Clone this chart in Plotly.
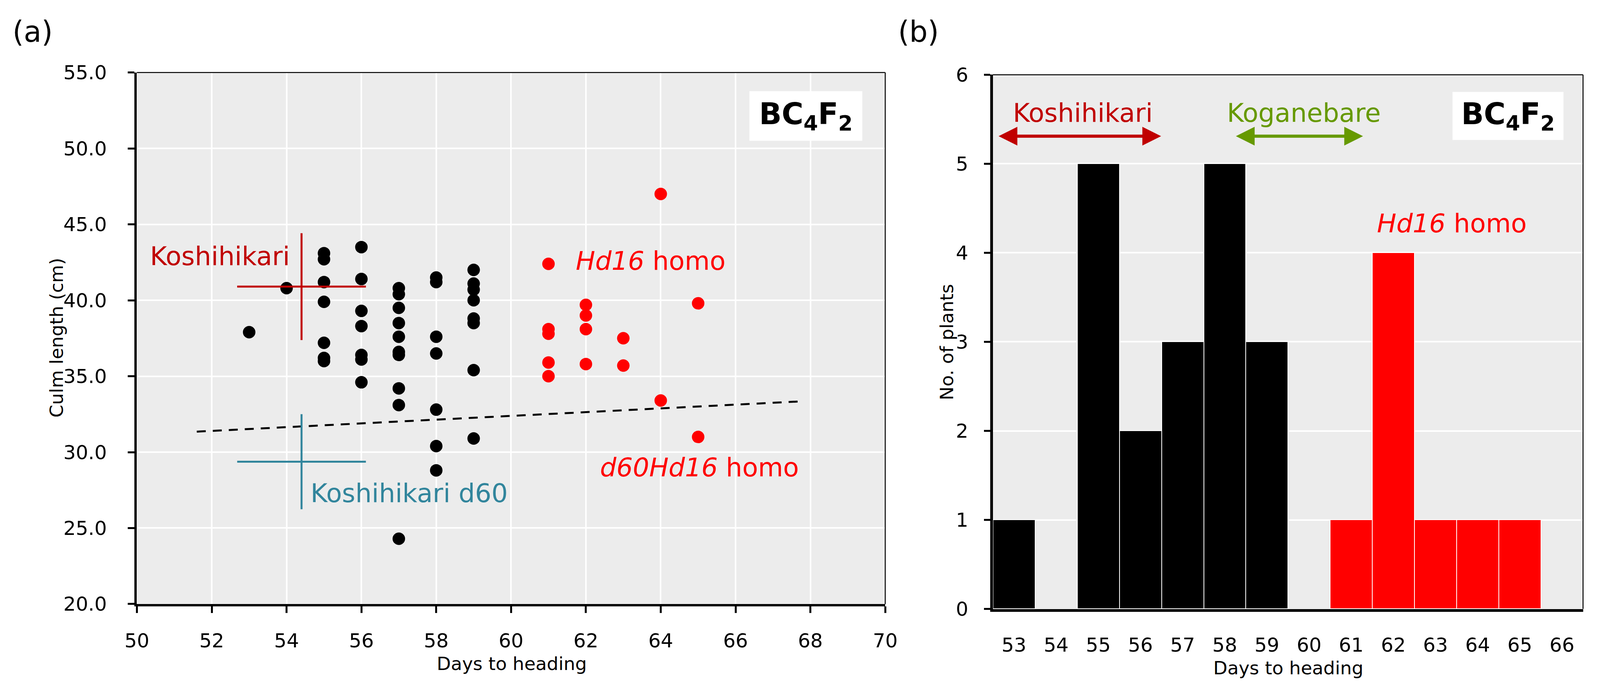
import plotly.graph_objects as go

# ---------------- data ----------------
# Panel (a): culm length (cm) by days to heading
black_days = [53, 54, 55, 55, 55, 55, 55, 55, 55,
              56, 56, 56, 56, 56, 56, 56,
              57, 57, 57, 57, 57, 57, 57, 57, 57, 57,
              58, 58, 58, 58, 58, 58, 58,
              59, 59, 59, 59, 59, 59, 59, 59]
black_culm = [37.9, 40.8, 43.1, 42.7, 41.2, 39.9, 37.2, 36.2, 36.0,
              43.5, 41.4, 39.3, 38.3, 36.4, 36.1, 34.6,
              40.8, 40.4, 39.5, 38.5, 37.6, 36.6, 36.4, 34.2, 33.1, 24.3,
              41.5, 41.2, 37.6, 36.5, 32.8, 30.4, 28.8,
              42.0, 41.1, 40.7, 40.0, 38.8, 38.5, 35.4, 30.9]
red_days = [61, 61, 61, 61, 61, 62, 62, 62, 62, 63, 63, 64, 64, 65, 65]
red_culm = [42.4, 38.1, 37.8, 35.9, 35.0, 39.7, 39.0, 38.1, 35.8,
            37.5, 35.7, 47.0, 33.4, 39.8, 31.0]

trend_x = [51.6, 67.8]
trend_y = [31.35, 33.35]

kosh_mean = [54.4, 40.9]
kosh_err = [1.72, 3.52]
d60_mean = [54.4, 29.37]
d60_err = [1.72, 3.13]

x_ticks_a = [50, 52, 54, 56, 58, 60, 62, 64, 66, 68, 70]
y_ticks_a = [20, 25, 30, 35, 40, 45, 50, 55]

# Panel (b): number of plants per day to heading
hist_days = [53, 54, 55, 56, 57, 58, 59, 60, 61, 62, 63, 64, 65, 66]
hist_black = [1, 0, 5, 2, 3, 5, 3, 0, 0, 0, 0, 0, 0, 0]
hist_red = [0, 0, 0, 0, 0, 0, 0, 0, 1, 4, 1, 1, 1, 0]
y_ticks_b = [0, 1, 2, 3, 4, 5, 6]

# ---------------- style ----------------
W, H = 4241, 1780
FONT = "DejaVu Sans"
BG = "#ECECEC"
KRED = "#C00000"
RED = "#FF0000"
TEAL = "#31859C"
GREEN = "#669900"
ANN = 66


def px(x):
    return x / W


def py(y):
    return 1 - y / H


fig = go.Figure()

# ---- panel (a) ----
fig.add_trace(go.Scatter(x=trend_x, y=trend_y, mode="lines",
                         line=dict(color="black", width=5, dash="23px,18px"),
                         xaxis="x", yaxis="y", hoverinfo="skip"))
fig.add_trace(go.Scatter(x=black_days, y=black_culm, mode="markers",
                         marker=dict(color="black", size=32),
                         xaxis="x", yaxis="y"))
fig.add_trace(go.Scatter(x=red_days, y=red_culm, mode="markers",
                         marker=dict(color=RED, size=32),
                         xaxis="x", yaxis="y"))
fig.add_trace(go.Scatter(x=[kosh_mean[0]], y=[kosh_mean[1]], mode="markers",
                         marker=dict(color=KRED, size=1),
                         error_x=dict(type="data", array=[kosh_err[0]], width=0,
                                      thickness=5, color=KRED),
                         error_y=dict(type="data", array=[kosh_err[1]], width=0,
                                      thickness=5, color=KRED),
                         xaxis="x", yaxis="y"))
fig.add_trace(go.Scatter(x=[d60_mean[0]], y=[d60_mean[1]], mode="markers",
                         marker=dict(color=TEAL, size=1),
                         error_x=dict(type="data", array=[d60_err[0]], width=0,
                                      thickness=5, color=TEAL),
                         error_y=dict(type="data", array=[d60_err[1]], width=0,
                                      thickness=5, color=TEAL),
                         xaxis="x", yaxis="y"))

# ---- panel (b) ----
fig.add_trace(go.Bar(x=hist_days, y=[v if v else None for v in hist_black], width=1,
                     marker=dict(color="black", line=dict(color="white", width=2)),
                     xaxis="x2", yaxis="y2"))
fig.add_trace(go.Bar(x=hist_days, y=[v if v else None for v in hist_red], width=1,
                     marker=dict(color=RED, line=dict(color="white", width=2)),
                     xaxis="x2", yaxis="y2"))

tickfont = dict(family=FONT, size=50, color="black")

fig.update_layout(
    autosize=True,
    margin=dict(l=0, r=0, t=0, b=0, pad=0),
    paper_bgcolor="white",
    plot_bgcolor=BG,
    showlegend=False,
    barmode="stack",
    bargap=0,
    font=dict(family=FONT, color="black"),
    xaxis=dict(domain=[px(335), px(2350)], range=[50, 70], tickvals=x_ticks_a,
               showgrid=True, gridcolor="white", gridwidth=4, zeroline=False,
               showline=True, linecolor="black", linewidth=6,
               ticks="outside", ticklen=17, tickwidth=5, tickcolor="black",
               tickfont=tickfont, ticklabelstandoff=28, anchor="y"),
    yaxis=dict(domain=[py(1570), py(162)], range=[20, 55], tickvals=y_ticks_a,
               tickformat=".1f",
               showgrid=True, gridcolor="white", gridwidth=4, zeroline=False,
               showline=True, linecolor="black", linewidth=6,
               ticks="outside", ticklen=17, tickwidth=5, tickcolor="black",
               tickfont=tickfont, ticklabelstandoff=44, anchor="x"),
    xaxis2=dict(domain=[px(2640), px(4229)], range=[52.5, 66.5], tickvals=hist_days,
                showgrid=False, zeroline=False,
                showline=True, linecolor="black", linewidth=7,
                ticks="", tickfont=tickfont, ticklabelstandoff=42, anchor="y2"),
    yaxis2=dict(domain=[py(1583), py(168)], range=[0, 6], tickvals=y_ticks_b,
                showgrid=True, gridcolor="white", gridwidth=4, zeroline=False,
                showline=True, linecolor="black", linewidth=7,
                ticks="outside", ticklen=16, tickwidth=5, tickcolor="black",
                tickfont=tickfont, ticklabelstandoff=30, anchor="x2"),
)

# thin top/right frame lines
for xr, yr in (("x domain", "y domain"), ("x2 domain", "y2 domain")):
    fig.add_shape(type="line", xref=xr, yref=yr, x0=0, x1=1, y0=1, y1=1,
                  line=dict(color="black", width=2.5), layer="above")
    fig.add_shape(type="line", xref=xr, yref=yr, x0=1, x1=1, y0=0, y1=1,
                  line=dict(color="black", width=2.5), layer="above")


def note(text, x, y, size, color="black", xanchor="center", angle=0, **kw):
    fig.add_annotation(text=text, x=px(x), y=py(y), xref="paper", yref="paper",
                       xanchor=xanchor, yanchor="middle", showarrow=False,
                       textangle=angle,
                       font=dict(family=FONT, size=size, color=color), **kw)


# panel labels
note("(a)", 54, 54, 74)
note("(b)", 2440, 54, 74)

# axis titles
note("Culm length (cm)", 118, 865, 47, angle=-90)
note("Days to heading", 1344, 1728, 47)
note("No. of plants", 2516, 876, 47, angle=-90)
note("Days to heading", 3435, 1739, 47)

# panel (a) labels
note("Koshihikari", 368, 649, ANN, color=KRED, xanchor="left")
note("<i>Hd16</i> homo", 1515, 661, ANN, color=RED, xanchor="left")
note("<i>d60Hd16</i> homo", 1580, 1209, ANN, color=RED, xanchor="left")
note("Koshihikari d60", 800, 1277, ANN, color=TEAL, xanchor="left")
note("<b>BC<sub>4</sub>F<sub>2</sub></b>", 2136, 277, 76, bgcolor="white",
     width=286, height=124, borderpad=1)

# panel (b) labels
note("Koshihikari", 2692, 269, ANN, color=KRED, xanchor="left")
note("Koganebare", 3268, 269, ANN, color=GREEN, xanchor="left")
note("<i>Hd16</i> homo", 3672, 562, ANN, color=RED, xanchor="left")
note("<b>BC<sub>4</sub>F<sub>2</sub></b>", 4027, 277, 76, bgcolor="white",
     width=281, height=120, borderpad=1)

# double-headed arrows in panel (b)
for (x0, x1, col) in ((52.62, 56.49, KRED), (58.25, 61.28, GREEN)):
    fig.add_annotation(x=x1, y=5.31, ax=x0, ay=5.31, xref="x2", yref="y2",
                       axref="x2", ayref="y2", text="", showarrow=True,
                       arrowhead=2, startarrowhead=2, arrowside="end+start",
                       arrowsize=1.2, startarrowsize=1.2, arrowwidth=8,
                       arrowcolor=col)

post = ("document.documentElement.style.margin='0';"
        "document.documentElement.style.padding='0';"
        "document.documentElement.style.overflow='hidden';"
        "document.body.style.margin='0';document.body.style.padding='0';"
        "document.body.style.overflow='hidden';"
        "var gd=document.getElementById('{plot_id}');"
        "gd.style.position='absolute';gd.style.left='0';gd.style.top='0';"
        "gd.style.width='100vw';gd.style.height='100vh';"
        "Plotly.Plots.resize(gd);")

fig.write_html("out.html", config={"responsive": True, "displayModeBar": False},
               default_width="100vw", default_height="100vh", post_script=post)
